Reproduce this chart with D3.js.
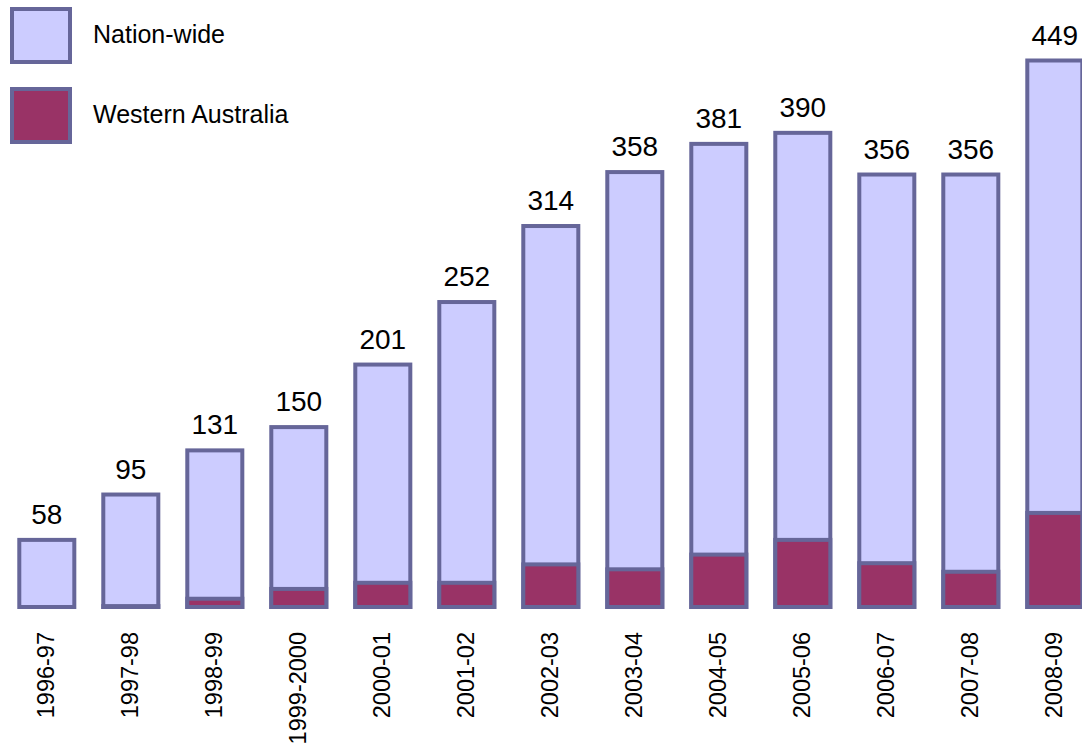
<!DOCTYPE html>
<html>
<head>
<meta charset="utf-8">
<script src="https://cdn.jsdelivr.net/npm/d3@7"></script>
<style>
  html, body { margin: 0; padding: 0; background: #fff; }
  svg { display: block; font-family: "Liberation Sans", Arial, sans-serif; }
</style>
</head>
<body>
<div id="chart"></div>
<script>
// data
const years = ['1996-97', '1997-98', '1998-99', '1999-2000', '2000-01', '2001-02', '2002-03',
  '2003-04', '2004-05', '2005-06', '2006-07', '2007-08', '2008-09'];
const nationWide = [58, 95, 131, 150, 201, 252, 314, 358, 381, 390, 356, 356, 449];
const westernAustralia = [0, 4, 10, 18, 23, 23, 38, 34, 46, 58, 39, 32, 80];
const seriesNames = ['Nation-wide', 'Western Australia'];

const width = 1082;
const height = 749;
const colors = ['#CCCCFF', '#993366'];
const strokeColor = '#666699';
const sw = 4;

const svg = d3.select('#chart')
  .append('svg')
  .attr('width', width)
  .attr('height', height);

// band scale: step ~84px, bars ~55px wide
const x = d3.scaleBand()
  .domain(years)
  .range([4.8, 4.8 + 13 * 84])
  .paddingInner(0.345)
  .paddingOuter(0.345 / 2);

const y = d3.scaleLinear()
  .domain([0, 449])
  .range([609, 58.5]);

// one rect per value, stroke kept inside the outer box
function barRect(sel, values) {
  sel.attr('x', (d, i) => x(years[i]))
    .attr('width', x.bandwidth())
    .attr('y', (d, i) => y(values[i]) + sw / 2)
    .attr('height', (d, i) => Math.max(0.5, y(0) - y(values[i]) - sw));
}

const bars = svg.append('g');

bars.selectAll('rect.nation')
  .data(nationWide)
  .enter().append('rect')
  .attr('class', 'nation')
  .call(barRect, nationWide)
  .attr('fill', colors[0])
  .attr('stroke', strokeColor)
  .attr('stroke-width', sw);

bars.selectAll('rect.wa')
  .data(westernAustralia)
  .enter().append('rect')
  .attr('class', 'wa')
  .call(barRect, westernAustralia)
  .attr('fill', colors[1])
  .attr('stroke', strokeColor)
  .attr('stroke-width', sw)
  .attr('display', d => d > 0 ? null : 'none');

// value labels
svg.append('g')
  .selectAll('text')
  .data(nationWide)
  .enter().append('text')
  .attr('x', (d, i) => x(years[i]) + x.bandwidth() / 2)
  .attr('y', d => y(d) - 14)
  .attr('text-anchor', 'middle')
  .attr('font-size', 28)
  .attr('fill', '#000')
  .text(d => d);

// category labels, rotated
const xAxis = d3.axisBottom(x).tickSize(0).tickPadding(0);
const axisG = svg.append('g')
  .attr('transform', 'translate(0, 632)')
  .call(xAxis);
axisG.select('.domain').remove();
axisG.selectAll('.tick text')
  .attr('font-family', '"Liberation Sans", Arial, sans-serif')
  .attr('font-size', 23.5)
  .attr('fill', '#000')
  .attr('text-anchor', 'end')
  .attr('dy', null)
  .attr('y', 0)
  .attr('transform', 'translate(7, 0) rotate(-90)');

// legend
const legend = svg.append('g');
const legendY = [9, 89];
legend.selectAll('rect')
  .data(seriesNames)
  .enter().append('rect')
  .attr('x', 12)
  .attr('y', (d, i) => legendY[i])
  .attr('width', 58)
  .attr('height', 53)
  .attr('fill', (d, i) => colors[i])
  .attr('stroke', strokeColor)
  .attr('stroke-width', sw);
legend.selectAll('text')
  .data(seriesNames)
  .enter().append('text')
  .attr('x', 93)
  .attr('y', (d, i) => legendY[i] + 34)
  .attr('font-size', 25)
  .attr('fill', '#000')
  .text(d => d);
</script>
</body>
</html>
